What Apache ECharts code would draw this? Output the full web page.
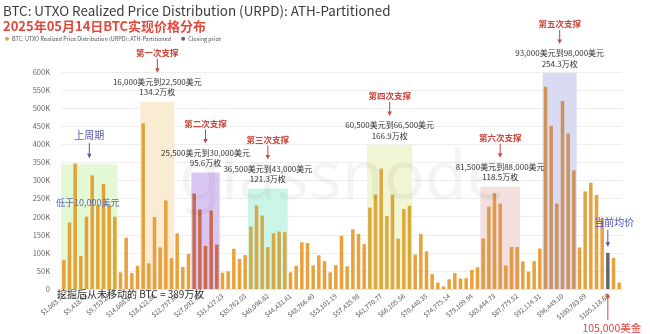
<!DOCTYPE html>
<html><head><meta charset="utf-8">
<script src="https://cdn.jsdelivr.net/npm/echarts@6/dist/echarts.min.js"></script>
<style>html,body{margin:0;padding:0;background:#fff}#c{width:650px;height:334px}</style>
</head><body><div id="c"></div>
<script>
// ---- data ----
const binWidth = 1083.69775;   // ATH / 100 (ATH-partitioned bins)
const binCount = 99;
const categories = Array.from({length: binCount}, (_, i) =>
  '$' + ((i + 1) * binWidth).toLocaleString('en-US', {minimumFractionDigits: 2, maximumFractionDigits: 2}));

const supply = [
  80000,184000,347000,91000,200000,314000,232000,290000,232000,200000,
  46000,142000,44000,64000,458000,71000,199000,115000,245000,85000,
  154000,61000,97000,264000,220000,119000,217000,123000,45000,49000,
  111000,83000,94000,173000,231000,203000,116000,154000,159000,157000,
  46000,64000,129000,127000,65000,93000,77000,46000,66000,147000,
  63000,165000,152000,124000,225000,261000,333000,202000,261000,139000,
  221000,230000,95000,152000,104000,41000,18000,7000,27000,44000,
  29000,30000,53000,60000,140000,228000,265000,236000,65000,116000,
  116000,76000,48000,77000,112000,559000,451000,236000,520000,430000,
  328000,115000,270000,294000,260000,195000,100000,86000,18000
];

const closingPrice = 105000;

// support zones (bin index ranges)
const zoneStart  = [0, 14, 23, 33, 54, 74, 85];
const zoneEnd    = [9, 19, 27, 39, 61, 80, 90];
const zoneTop    = [345000, 518000, 322000, 278000, 398000, 283000, 597000];
const zoneTitle  = ['上周期', '第一次支撑', '第二次支撑', '第三次支撑', '第四次支撑', '第六次支撑', '第五次支撑'];
const zoneRange  = ['', '16,000美元到22,500美元', '25,500美元到30,000美元', '36,500美元到43,000美元',
                    '60,500美元到66,500美元', '81,500美元到88,000美元', '93,000美元到98,000美元'];
const zoneSupply = ['', '134.2万枚', '95.6万枚', '121.3万枚', '166.9万枚', '118.5万枚', '254.3万枚'];

// ---- styles ----
const baseColor = '#E9A23B';
const closeColor = '#666666';
const zoneFill = ['#E3F9D6', '#FAECD3', '#DAC6F3', '#CBF6E7', '#F2F5D4', '#F2DFDE', '#D8DBF1'];
const zoneBar  = ['#E3A137', '#E8A03E', '#CC6A4E', '#D8A747', '#DCA83D', '#E09A4A', '#CF925C'];
const CJK = '"Noto Sans CJK SC", "Noto Sans", sans-serif';

const closingIndex = Math.ceil(closingPrice / binWidth) - 1;

function barColor(i) {
  if (i === closingIndex) return closeColor;
  for (let z = 0; z < zoneStart.length; z++) {
    if (i >= zoneStart[z] && i <= zoneEnd[z]) return zoneBar[z];
  }
  return baseColor;
}

const areas = zoneStart.map((s, z) => [
  {xAxis: s - 0.5, yAxis: 0, itemStyle: {color: zoneFill[z]}},
  {xAxis: zoneEnd[z] + 0.5, yAxis: zoneTop[z]}
]);

const chart = echarts.init(document.getElementById('c'), null, {renderer: 'canvas'});
const option = {
  animation: false,
  textStyle: {fontFamily: CJK},
  title: [
    {text: 'BTC: UTXO Realized Price Distribution (URPD): ATH-Partitioned', left: 3, top: 4, padding: 0,
     textStyle: {fontSize: 13.4, fontWeight: 'normal', color: '#3a3a3a', fontFamily: CJK, lineHeight: 14}},
    {text: '2025年05月14日BTC实现价格分布', left: 3, top: 19.5, padding: 0,
     textStyle: {fontSize: 13, fontWeight: 'bold', color: '#E2493D', fontFamily: CJK, lineHeight: 14}}
  ],
  legend: {
    left: 5, top: 36, padding: 0, icon: 'circle', itemWidth: 4, itemHeight: 4, itemGap: 10,
    textStyle: {fontSize: 5.5, color: '#555', padding: [0, 0, 0, -2]},
    data: ['BTC: UTXO Realized Price Distribution (URPD): ATH-Partitioned', 'Closing price']
  },
  grid: {left: 61, right: 28, top: 72, bottom: 45, containLabel: false, outerBoundsMode: 'none'},
  xAxis: [
    {type: 'category', data: categories, boundaryGap: true,
     axisLine: {show: true, lineStyle: {color: '#e4e4e4'}}, axisTick: {show: false},
     axisLabel: {interval: 3, rotate: 40, fontSize: 6.5, color: '#555', margin: 6, fontFamily: CJK}},
    {type: 'value', min: -0.5, max: binCount - 0.5, show: false}
  ],
  yAxis: {
    type: 'value', min: 0, max: 600000, interval: 50000,
    axisLine: {show: false}, axisTick: {show: false},
    splitLine: {lineStyle: {color: '#eeeeee', width: 1}},
    axisLabel: {fontSize: 7.5, color: '#666', margin: 11, fontFamily: CJK,
      formatter: v => v === 0 ? '0' : (v / 1000) + 'K'}
  },
  series: [
    {name: 'BTC: UTXO Realized Price Distribution (URPD): ATH-Partitioned', type: 'bar',
     xAxisIndex: 0, yAxisIndex: 0, barWidth: 3.5, z: 3,
     itemStyle: {color: p => barColor(p.dataIndex)},
     data: supply},
    {name: 'Closing price', type: 'line', xAxisIndex: 1, yAxisIndex: 0, data: [],
     itemStyle: {color: closeColor}, lineStyle: {color: closeColor},
     markArea: {silent: true, z: 1, data: areas}}
  ],
  color: [baseColor, closeColor]
};
chart.setOption(option);

// ---- annotations anchored to data coordinates ----
function px(xv, yv) { return chart.convertToPixel({seriesIndex: 1}, [xv, yv]); }
function text(x, y, t, color, font, align) {
  return {type: 'text', x: x, y: y, z: 20, silent: true,
    style: {text: t, fill: color, font: font, textAlign: align || 'center', textVerticalAlign: 'middle'}};
}
function arrow(x, yFrom, yTip, color) {
  const d = yTip > yFrom ? 1 : -1;
  return [
    {type: 'line', z: 20, silent: true, shape: {x1: x, y1: yFrom, x2: x, y2: yTip - d * 3},
     style: {stroke: color, lineWidth: 1}},
    {type: 'polygon', z: 20, silent: true,
     shape: {points: [[x - 2.2, yTip - d * 4.5], [x + 2.2, yTip - d * 4.5], [x, yTip]]},
     style: {fill: color}}
  ];
}
const els = [];
// watermark
els.push({type: 'text', x: 342, y: 180, z: 15, silent: true,
  style: {text: 'glassnode', fill: 'rgba(0,0,0,0.045)', font: '68px "Noto Sans", sans-serif',
          textAlign: 'center', textVerticalAlign: 'middle'}});

const red = '#C8463C', blue = '#5257AE';
zoneStart.forEach((s, z) => {
  const [xc, yt] = px((s + zoneEnd[z]) / 2, zoneTop[z]);
  if (zoneRange[z]) {
    els.push(text(xc, yt - 49, zoneTitle[z], red, 'bold 8.5px ' + CJK));
    els.push(...arrow(xc, yt - 43, yt - 29, red));
    els.push(text(xc, yt - 20, zoneRange[z], '#333', '8px ' + CJK));
    els.push(text(xc, yt - 9.5, zoneSupply[z], '#333', '8px ' + CJK));
  } else {
    els.push(text(xc, yt - 29, zoneTitle[z], blue, '10px ' + CJK));
    els.push(...arrow(xc, yt - 21, yt - 6, blue));
  }
});
// inside first zone
{
  const [xl, yy] = px(zoneStart[0] - 0.5, 238000);
  els.push(text(xl - 5, yy, '低于10,000美元', '#6067A8', '9px ' + CJK, 'left'));
}
// bottom note
{
  const [x0, y0] = px(-0.5, 0);
  els.push(text(x0 - 4, y0 + 5, '挖掘后从未移动的 BTC = 389万枚', '#2e2e2e', '10px ' + CJK, 'left'));
}
// closing price marker
{
  const [xb, yb] = px(closingIndex, supply[closingIndex]);
  const [, y0] = px(closingIndex, 0);
  els.push(text(xb + 6.5, yb - 30.5, '当前均价', '#4A4FB5', '10px ' + CJK));
  els.push(...arrow(xb, yb - 23, yb - 6, '#4A4FB5'));
  els.push(...arrow(xb, y0 + 31, y0 + 4, '#E0443A'));
  els.push(text(xb + 4, y0 + 38.7, '105,000美金', '#E0443A', '10.5px ' + CJK));
}
chart.setOption({graphic: {elements: els}});
</script>
</body></html>
